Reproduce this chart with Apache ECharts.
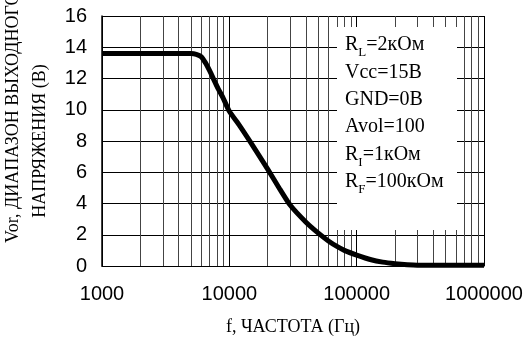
<!DOCTYPE html>
<html>
<head>
<meta charset="utf-8">
<script src="https://cdn.jsdelivr.net/npm/echarts@6/dist/echarts.min.js"></script>
<style>
  html, body { margin: 0; padding: 0; background: #fff; }
  #chart { width: 524px; height: 340px; }
</style>
</head>
<body>
<div id="chart"></div>
<script>
// частота, Гц
var freq = [1000, 2000, 3000, 4000, 5000, 5500, 6000, 6500, 7000, 8000, 9000, 10000,
            12000, 15000, 20000, 25000, 30000, 40000, 50000, 60000, 70000, 80000,
            100000, 130000, 160000, 200000, 250000, 300000, 500000, 1000000];
// размах выходного напряжения, В
var vor = [13.6, 13.6, 13.6, 13.6, 13.6, 13.55, 13.4, 13.0, 12.5, 11.5, 10.7, 9.9,
           9.0, 7.8, 6.2, 4.9, 3.9, 2.8, 2.1, 1.6, 1.25, 1.0,
           0.7, 0.4, 0.25, 0.15, 0.08, 0.05, 0.05, 0.05];
var yTicks = [0, 2, 4, 6, 8, 10, 12, 14, 16];
// дополнительные линии сетки (2..9 в каждой декаде)
var minorFreq = [2000, 3000, 4000, 5000, 6000, 7000, 8000, 9000,
                 20000, 30000, 40000, 50000, 60000, 70000, 80000, 90000,
                 200000, 300000, 400000, 500000, 600000, 700000, 800000, 900000];

var serif = '"Liberation Serif", "Times New Roman", serif';
var sans = '"Liberation Sans", Arial, sans-serif';

var myChart = echarts.init(document.getElementById('chart'));

var rich = {
  m: { fontFamily: serif, fontSize: 20, color: '#000', lineHeight: 28 },
  s: { fontFamily: serif, fontSize: 13, color: '#000', lineHeight: 16, verticalAlign: 'bottom' }
};
var notes = [
  '{m|R}{s|L}{m|=2кОм}',
  '{m|Vcc=15В}',
  '{m|GND=0В}',
  '{m|Avol=100}',
  '{m|R}{s|I}{m|=1кОм}',
  '{m|R}{s|F}{m|=100кОм}'
];
var noteEls = notes.map(function (t, i) {
  return {
    type: 'text', x: 345, y: 45 + i * 27.4, z: 101,
    style: { text: t, rich: rich, verticalAlign: 'middle', align: 'left' }
  };
});

var option = {
  animation: false,
  grid: { left: 102, right: 40, top: 16, bottom: 74, outerBoundsMode: 'none', containLabel: false },
  xAxis: {
    type: 'log', logBase: 10, min: 1000, max: 1000000,
    axisLine: { show: true, onZero: false, lineStyle: { color: '#000', width: 1 } },
    axisTick: { show: false },
    axisLabel: { color: '#000', fontFamily: sans, fontSize: 20, margin: 18,
                 formatter: function (v) { return String(Math.round(v)); } },
    splitLine: { show: true, lineStyle: { color: '#000', width: 1 } }
  },
  yAxis: {
    type: 'value', min: 0, max: 16, interval: 2,
    axisLine: { show: true, lineStyle: { color: '#000', width: 1.5 } },
    axisTick: { show: false },
    axisLabel: { color: '#000', fontFamily: sans, fontSize: 20, margin: 15 },
    splitLine: { show: true, lineStyle: { color: '#000', width: 1 } }
  },
  graphic: [
    { type: 'rect', shape: { x: 337, y: 27, width: 120, height: 203 }, z: 100,
      style: { fill: '#fff' } },
    { type: 'text', x: 13, y: 243, rotation: Math.PI / 2, z: 100,
      style: { text: 'Vor, ДИАПАЗОН ВЫХОДНОГО', fontFamily: serif, fontSize: 18,
               fill: '#000', align: 'left', verticalAlign: 'middle' } },
    { type: 'text', x: 40, y: 141, rotation: Math.PI / 2, z: 100,
      style: { text: 'НАПРЯЖЕНИЯ (В)', fontFamily: serif, fontSize: 18,
               fill: '#000', align: 'center', verticalAlign: 'middle' } },
    { type: 'text', x: 293, y: 327, z: 100,
      style: { text: 'f, ЧАСТОТА (Гц)', fontFamily: serif, fontSize: 18,
               fill: '#000', align: 'center', verticalAlign: 'middle' } }
  ].concat(noteEls),
  series: [{
    type: 'line',
    data: freq.map(function (f, i) { return [f, vor[i]]; }),
    showSymbol: false,
    smooth: 0.2,
    z: 5,
    lineStyle: { color: '#000', width: 5 },
    markLine: {
      silent: true,
      symbol: ['none', 'none'],
      label: { show: false },
      lineStyle: { color: '#444', width: 1, type: 'solid' },
      data: minorFreq.map(function (f) { return { xAxis: f }; })
    }
  }]
};

myChart.setOption(option);
</script>
</body>
</html>
